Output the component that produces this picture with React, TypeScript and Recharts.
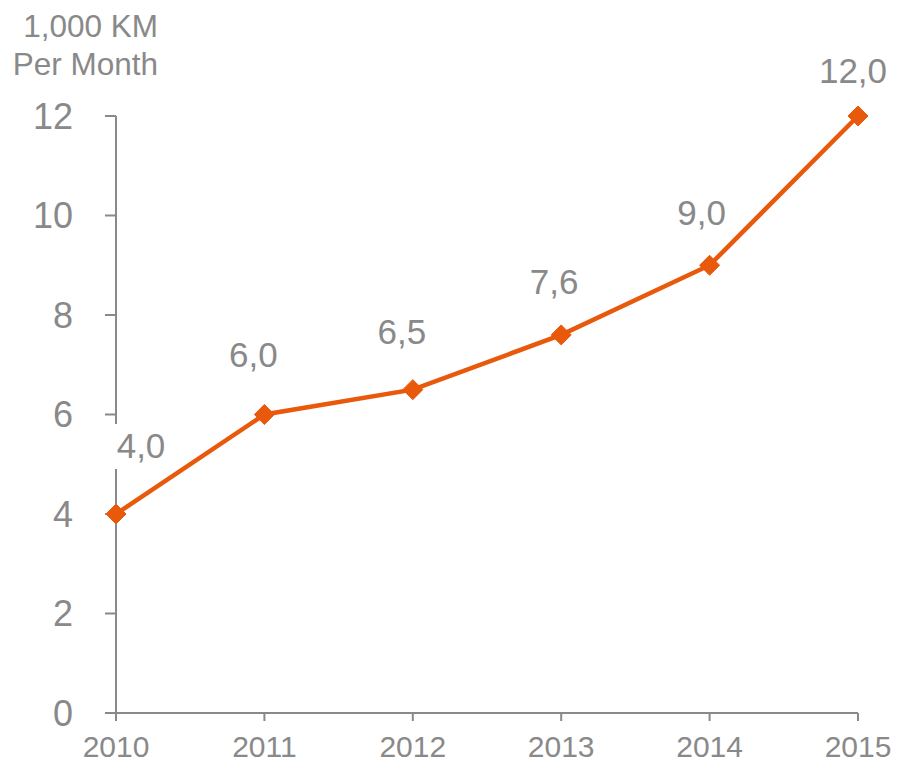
import React from "react";
import { LineChart, Line, XAxis, YAxis, LabelList } from "recharts";

const years = ["2010", "2011", "2012", "2013", "2014", "2015"];
const values = [4.0, 6.0, 6.5, 7.6, 9.0, 12.0];
const valueLabels = ["4,0", "6,0", "6,5", "7,6", "9,0", "12,0"];
const yTicks = [0, 2, 4, 6, 8, 10, 12];
const titleLines = ["1,000 KM", "Per Month"];

// layout only: label offsets relative to each point (center dx, baseline dy)
const labelOffsets: [number, number][] = [
  [25, -56],
  [-11, -48],
  [-11, -46],
  [-7, -41],
  [-8, -40],
  [-5, -33],
];

const data = years.map((y, i) => ({ year: y, value: values[i], label: valueLabels[i] }));

const GRAY = "#898989";
const ORANGE = "#E8590C";
const FONT = "'Liberation Sans', Arial, sans-serif";

const Diamond = (props: any) => {
  const { cx, cy } = props;
  if (cx == null || cy == null) return null;
  const r = 10;
  return (
    <polygon
      points={`${cx},${cy - r} ${cx + r},${cy} ${cx},${cy + r} ${cx - r},${cy}`}
      fill={ORANGE}
      stroke={ORANGE}
      strokeWidth={1}
    />
  );
};

const ValueLabel = (props: any) => {
  const { x, y, index } = props;
  const [dx, dy] = labelOffsets[index] || [0, -40];
  const cx = x + dx;
  const base = y + dy;
  const text = valueLabels[index];
  const w = text.length * 17 + 12;
  return (
    <g>
      <rect x={cx - w / 2} y={base - 34} width={w} height={45} fill="#ffffff" />
      <text
        x={cx}
        y={base}
        textAnchor="middle"
        fontSize={35}
        fontFamily={FONT}
        fill={GRAY}
      >
        {text}
      </text>
    </g>
  );
};

export default function App() {
  return (
    <div style={{ position: "absolute", left: 0, top: 0, width: 901, height: 765, background: "#fff" }}>
      <LineChart
        width={901}
        height={765}
        data={data}
        margin={{ top: 116, right: 43, bottom: 8, left: 36 }}
      >
        <XAxis
          dataKey="year"
          height={44}
          padding={{ left: 0, right: 0 }}
          tickSize={8}
          tickMargin={15}
          stroke={GRAY}
          tick={{ fill: GRAY, fontSize: 30, fontFamily: FONT }}
          axisLine={{ stroke: GRAY, strokeWidth: 2 }}
          tickLine={{ stroke: GRAY, strokeWidth: 2 }}
          interval={0}
        />
        <YAxis
          width={80}
          domain={[0, 12]}
          ticks={yTicks}
          tickSize={11}
          tickMargin={32}
          stroke={GRAY}
          tick={{ fill: GRAY, fontSize: 36, fontFamily: FONT }}
          axisLine={{ stroke: GRAY, strokeWidth: 2 }}
          tickLine={{ stroke: GRAY, strokeWidth: 2 }}
        />
        <Line
          dataKey="value"
          stroke={ORANGE}
          strokeWidth={4.5}
          dot={<Diamond />}
          activeDot={false}
          isAnimationActive={false}
        >
          <LabelList dataKey="label" content={<ValueLabel />} />
        </Line>
      </LineChart>
      <svg
        width={200}
        height={90}
        style={{ position: "absolute", left: 0, top: 0 }}
      >
        {titleLines.map((t, i) => (
          <text
            key={t}
            x={158}
            y={37 + i * 38}
            textAnchor="end"
            fontSize={31.5}
            fontFamily={FONT}
            fill={GRAY}
          >
            {t}
          </text>
        ))}
      </svg>
    </div>
  );
}
